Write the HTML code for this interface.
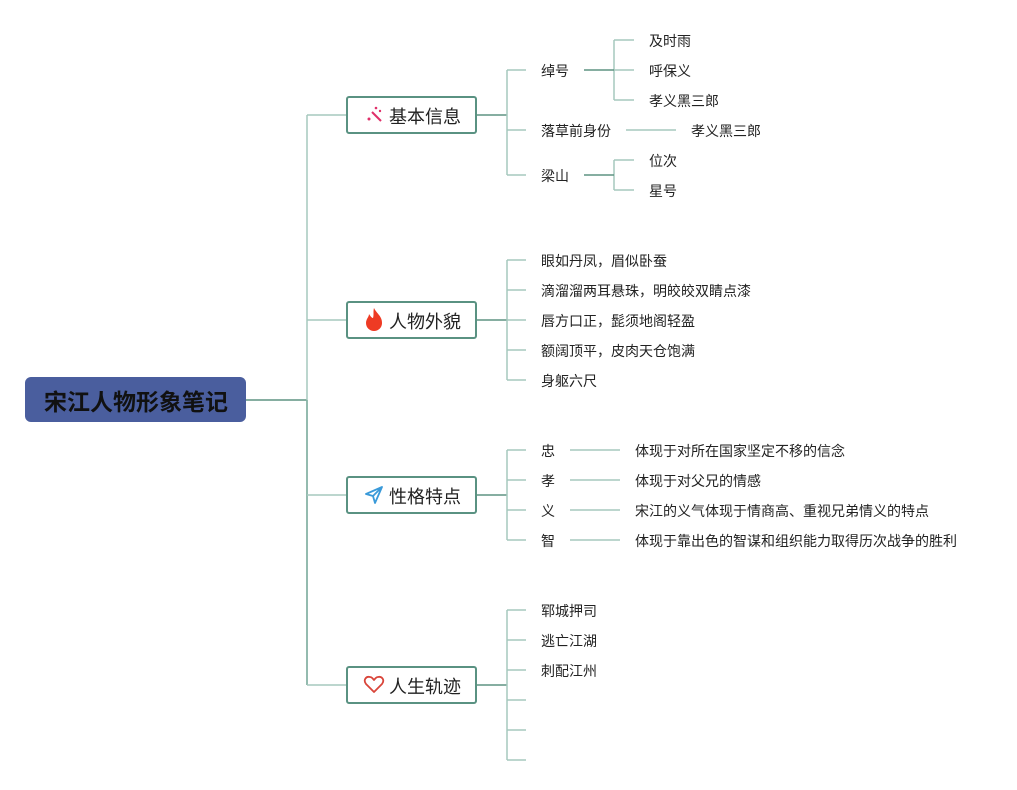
<!DOCTYPE html>
<html><head><meta charset="utf-8"><style>
html,body{margin:0;padding:0;background:#fff;}
svg text{font-family:"Liberation Sans","Noto Sans CJK SC",sans-serif;fill:#222;}
</style></head><body>
<svg width="1017" height="785" viewBox="0 0 1017 785" xmlns="http://www.w3.org/2000/svg">
<g fill="none" stroke-width="1.5">
<path d="M246 400H307" stroke="#5e9482"/>
<path d="M307 115V685" stroke="#a5c8bd"/>
<path d="M307 400V685" stroke="#7fae9f"/>
<path d="M307 115H347M307 320H347M307 495H347M307 685H347" stroke="#a5c8bd"/>
<path d="M476 115H507M476 320H507M476 495H507M476 685H507" stroke="#5e9482"/>
<g stroke="#a5c8bd">
<path d="M507 70V175M507 70H526M507 130H526M507 175H526"/>
<path d="M507 260V380M507 260H526M507 290H526M507 320H526M507 350H526M507 380H526"/>
<path d="M507 450V540M507 450H526M507 480H526M507 510H526M507 540H526"/>
<path d="M507 610V760M507 610H526M507 640H526M507 670H526M507 700H526M507 730H526M507 760H526"/>
<path d="M614 40V100M614 40H634M614 70H634M614 100H634"/>
<path d="M614 160V190M614 160H634M614 190H634"/>
<path d="M626 130H676"/>
<path d="M570 450H620M570 480H620M570 510H620M570 540H620"/>
</g>
<path d="M584 70H614M584 175H614" stroke="#5e9482"/>
</g>
<rect x="25" y="377" width="221" height="45" rx="6" fill="#4a5e9e"/>
<text x="136" y="410" font-size="23" font-weight="bold" text-anchor="middle" style="fill:#111">宋江人物形象笔记</text>
<g fill="#fff" stroke="#5a9282" stroke-width="2">
<rect x="347" y="97" width="129" height="36" rx="2"/>
<rect x="347" y="302" width="129" height="36" rx="2"/>
<rect x="347" y="477" width="129" height="36" rx="2"/>
<rect x="347" y="667" width="129" height="36" rx="2"/>
</g>
<g font-size="18">
<text x="389" y="123">基本信息</text>
<text x="389" y="328">人物外貌</text>
<text x="389" y="503">性格特点</text>
<text x="389" y="693">人生轨迹</text>
</g>
<g stroke="#e0306a" stroke-width="2" fill="#e0306a">
<path d="M372 112L381 121"/><circle cx="369" cy="119" r="1.5" stroke="none"/><circle cx="376" cy="108" r="1.3" stroke="none"/><circle cx="380" cy="111" r="1.2" stroke="none"/>
</g>
<path d="M374 308C377 314 382 316 382 323C382 328 378 331 374 331C370 331 366 328 366 323C366 319 369 317 369 314C371 317 372 318 373 318C374 315 373 311 374 308Z" fill="#ee3b24"/>
<path d="M382 487L366 494L373 496L375 503Z M373 496L382 487" fill="none" stroke="#3a9ad9" stroke-width="1.8" stroke-linejoin="round"/>
<path d="M374 692L366 684C363 680 366 676 370 677C372 677 373 679 374 680C375 679 376 677 378 677C382 676 385 680 382 684Z" fill="none" stroke="#d9453a" stroke-width="1.8" stroke-linejoin="round"/>
<g font-size="14">
<text x="541" y="76">绰号</text>
<text x="541" y="136">落草前身份</text>
<text x="541" y="181">梁山</text>
<text x="649" y="46">及时雨</text>
<text x="649" y="76">呼保义</text>
<text x="649" y="106">孝义黑三郎</text>
<text x="691" y="136">孝义黑三郎</text>
<text x="649" y="166">位次</text>
<text x="649" y="196">星号</text>
<text x="541" y="266">眼如丹凤，眉似卧蚕</text>
<text x="541" y="296">滴溜溜两耳悬珠，明皎皎双睛点漆</text>
<text x="541" y="326">唇方口正，髭须地阁轻盈</text>
<text x="541" y="356">额阔顶平，皮肉天仓饱满</text>
<text x="541" y="386">身躯六尺</text>
<text x="541" y="456">忠</text>
<text x="541" y="486">孝</text>
<text x="541" y="516">义</text>
<text x="541" y="546">智</text>
<text x="635" y="456">体现于对所在国家坚定不移的信念</text>
<text x="635" y="486">体现于对父兄的情感</text>
<text x="635" y="516">宋江的义气体现于情商高、重视兄弟情义的特点</text>
<text x="635" y="546">体现于靠出色的智谋和组织能力取得历次战争的胜利</text>
<text x="541" y="616">郓城押司</text>
<text x="541" y="646">逃亡江湖</text>
<text x="541" y="676">刺配江州</text>
</g>
</svg>
</body></html>
